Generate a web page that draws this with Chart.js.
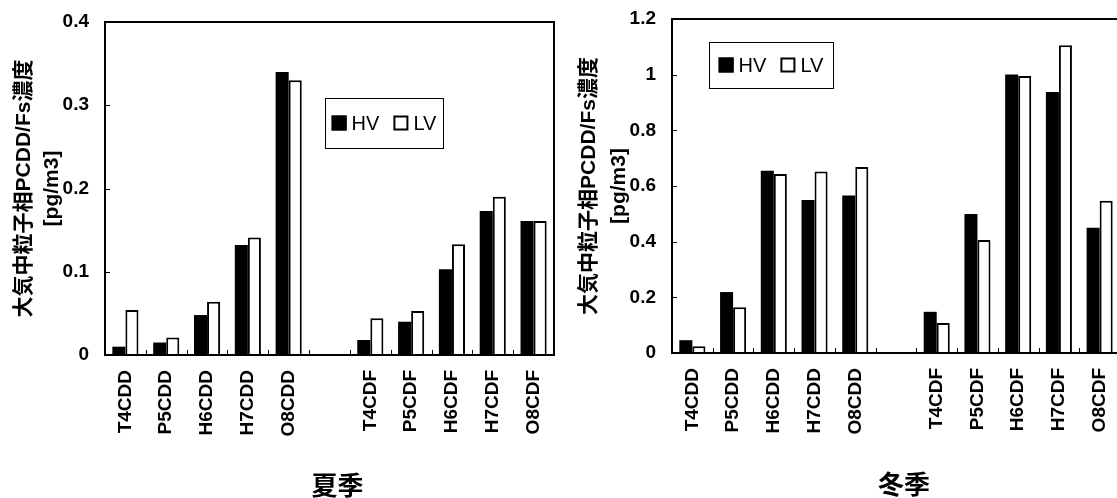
<!DOCTYPE html>
<html>
<head>
<meta charset="utf-8">
<script src="https://cdn.jsdelivr.net/npm/chart.js@4.4.1/dist/chart.umd.min.js"></script>
<style>
  html, body { margin: 0; padding: 0; background: #fff; overflow: hidden; }
  .panel { position: absolute; top: 0; height: 498px; width: 560px; }
  #summer-wrap { left: 0; }
  #winter-wrap { left: 560px; }
</style>
</head>
<body>
<div class="panel" id="summer-wrap"><canvas id="summer"></canvas></div>
<div class="panel" id="winter-wrap"><canvas id="winter"></canvas></div>
<script>
// categories (empty slot separates PCDD and PCDF groups)
const categories = ["T4CDD", "P5CDD", "H6CDD", "H7CDD", "O8CDD", "", "T4CDF", "P5CDF", "H6CDF", "H7CDF", "O8CDF"];
const seriesNames = ["HV", "LV"];

const summerHV = [0.010, 0.015, 0.048, 0.132, 0.340, null, 0.018, 0.040, 0.103, 0.173, 0.161];
const summerLV = [0.054, 0.021, 0.064, 0.141, 0.330, null, 0.044, 0.053, 0.133, 0.190, 0.161];
const winterHV = [0.046, 0.219, 0.655, 0.550, 0.566, null, 0.148, 0.499, 1.001, 0.938, 0.450];
const winterLV = [0.024, 0.164, 0.643, 0.652, 0.668, null, 0.108, 0.406, 0.995, 1.106, 0.547];

const summerYMax = 0.4, summerYStep = 0.1;
const winterYMax = 1.2, winterYStep = 0.2;

const yTitle = ["大気中粒子相PCDD/Fs濃度", "[pg/m3]"];
const summerLabel = "夏季";
const winterLabel = "冬季";

const FONT = "'Liberation Sans', 'Noto Sans CJK JP', sans-serif";
Chart.defaults.font.family = FONT;
Chart.defaults.color = "#000";

// frame, inward ticks, boxed legend and season caption
const panelDecor = {
  id: "panelDecor",
  afterDatasetsDraw(chart, args, opts) {
    const { ctx, chartArea: a, scales: { x, y } } = chart;
    ctx.save();
    ctx.strokeStyle = "#000";
    ctx.lineWidth = 1;
    ctx.beginPath();
    y.ticks.forEach(t => {
      const py = Math.round(y.getPixelForValue(t.value)) + 0.5;
      ctx.moveTo(a.left, py); ctx.lineTo(a.left + 5, py);
    });
    for (let i = 1; i < chart.data.labels.length; i++) {
      const px = Math.round((x.getPixelForValue(i - 1) + x.getPixelForValue(i)) / 2) + 0.5;
      ctx.moveTo(px, a.bottom); ctx.lineTo(px, a.bottom - 5);
    }
    ctx.stroke();

    ctx.lineWidth = 2;
    ctx.strokeRect(a.left, a.top, a.right - a.left, a.bottom - a.top);

    // legend
    const lg = opts.legend;
    const bx = a.left + lg.dx, by = a.top + lg.dy;
    ctx.font = "20px " + FONT;
    const sw = 15, gapT = 5, gapI = 14;
    const items = chart.data.datasets.map(d => ({ d, w: ctx.measureText(d.label).width }));
    let content = 0;
    items.forEach((it, i) => { content += sw + gapT + it.w + (i ? gapI : 0); });
    let cx = bx + (lg.w - content) / 2;
    const cy = by + lg.h / 2;
    ctx.lineWidth = 1;
    ctx.strokeRect(bx + 0.5, by + 0.5, lg.w, lg.h);
    ctx.textBaseline = "middle";
    ctx.textAlign = "left";
    items.forEach(it => {
      ctx.fillStyle = it.d.backgroundColor;
      ctx.fillRect(cx, cy - sw / 2, sw, sw);
      ctx.lineWidth = 2;
      ctx.strokeStyle = it.d.borderColor;
      ctx.strokeRect(cx + 1, cy - sw / 2 + 1, sw - 2, sw - 2);
      ctx.fillStyle = "#000";
      ctx.fillText(it.d.label, cx + sw + gapT, cy + 1);
      cx += sw + gapT + it.w + gapI;
    });

    // season caption
    ctx.font = "bold 26px 'Noto Sans CJK JP', sans-serif";
    ctx.textAlign = "center";
    ctx.fillText(opts.season, (a.left + a.right) / 2 + opts.seasonShift, opts.seasonY);
    ctx.restore();
  }
};

function makeChart(id, hv, lv, cfg) {
  return new Chart(document.getElementById(id), {
    type: "bar",
    data: {
      labels: categories,
      datasets: [
        { label: seriesNames[0], data: hv, backgroundColor: "#000", borderColor: "#000", borderWidth: 0 },
        { label: seriesNames[1], data: lv, backgroundColor: "#fff", borderColor: "#000", borderWidth: 2 }
      ]
    },
    options: {
      responsive: true,
      maintainAspectRatio: false,
      animation: false,
      layout: { padding: { top: cfg.top, right: cfg.right, left: 0, bottom: 0 } },
      datasets: { bar: { categoryPercentage: 0.64, barPercentage: 1 } },
      plugins: {
        legend: { display: false },
        tooltip: { enabled: false },
        panelDecor: { legend: cfg.legend, season: cfg.season, seasonShift: cfg.seasonShift, seasonY: cfg.seasonY }
      },
      scales: {
        x: {
          grid: { display: false, drawTicks: false },
          border: { display: false },
          ticks: { minRotation: 90, maxRotation: 90, autoSkip: false, padding: 15,
                   font: { size: 19, weight: "bold" } },
          afterFit: s => { s.height = cfg.xHeight; s.paddingLeft = 0; s.paddingRight = 0; }
        },
        y: {
          min: 0,
          max: cfg.yMax,
          grid: { display: false, drawTicks: false },
          border: { display: false },
          ticks: { stepSize: cfg.yStep, padding: 16, font: { size: 19, weight: "bold" },
                   callback: v => String(Number(v.toFixed(2))) },
          title: { display: true, text: yTitle, padding: { top: cfg.titlePad, bottom: 0 },
                   font: { size: 21, weight: "bold", lineHeight: cfg.titleLH } },
          afterFit: s => { s.width = cfg.yWidth; s.paddingTop = 0; s.paddingBottom = 0; }
        }
      }
    },
    plugins: [panelDecor]
  });
}

makeChart("summer", summerHV, summerLV, {
  top: 22, right: 6, yWidth: 105, xHeight: 143,
  yMax: summerYMax, yStep: summerYStep,
  titlePad: 11, titleLH: 1.3,
  legend: { dx: 220, dy: 76, w: 118, h: 50 },
  season: summerLabel, seasonShift: 8, seasonY: 485
});

makeChart("winter", winterHV, winterLV, {
  top: 19, right: 0, yWidth: 112, xHeight: 145,
  yMax: winterYMax, yStep: winterYStep,
  titlePad: 14, titleLH: 1.43,
  legend: { dx: 37, dy: 23, w: 124, h: 46 },
  season: winterLabel, seasonShift: 8, seasonY: 484
});
</script>
</body>
</html>
